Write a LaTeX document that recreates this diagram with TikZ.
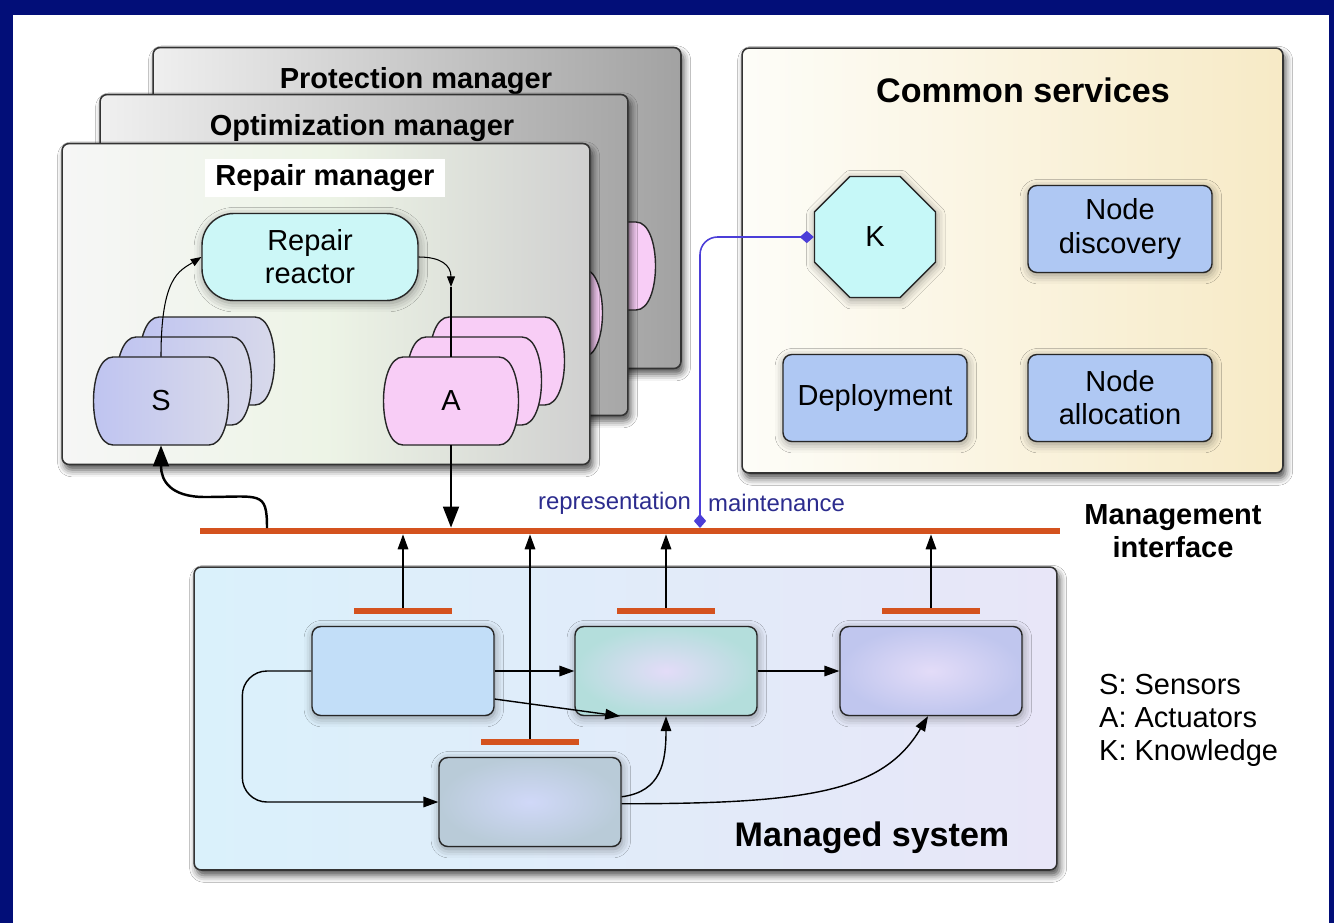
\documentclass[tikz,border=0pt]{standalone}
\usepackage{fontspec}
\setmainfont{Liberation Sans}
\usetikzlibrary{arrows.meta, positioning, calc, shapes.geometric, shadows.blur}
\definecolor{frameNavy}{HTML}{020E78}
\definecolor{busRed}{HTML}{D4521E}
\definecolor{reactorCyan}{HTML}{CCF7F7}
\definecolor{knowCyan}{HTML}{C6F8F8}
\definecolor{svcBlue}{HTML}{AFC8F3}
\definecolor{sensLeft}{HTML}{BEC3F1}
\definecolor{sensRight}{HTML}{D9DAEA}
\definecolor{actPink}{HTML}{F8CDF6}
\definecolor{kBlue}{HTML}{4B3ED8}
\definecolor{repText}{HTML}{2C2C8E}
\definecolor{protLeft}{HTML}{EFEFEF}
\definecolor{protRight}{HTML}{A2A2A2}
\definecolor{repLeft}{HTML}{F6F6F6}
\definecolor{repMid}{HTML}{EDF4E6}
\definecolor{repRight}{HTML}{D0D0D0}
\definecolor{comLeft}{HTML}{FDFDF8}
\definecolor{comRight}{HTML}{F7EAC6}
\definecolor{sysLeft}{HTML}{DAF1FB}
\definecolor{sysRight}{HTML}{E8E6F8}
\definecolor{cOneFill}{HTML}{C2DEF8}
\definecolor{compLilac}{HTML}{E3DCF8}
\definecolor{compTeal}{HTML}{B4DEDC}
\definecolor{compBlue}{HTML}{C0C6EE}
\definecolor{compMist}{HTML}{D0D8F8}
\definecolor{compSlate}{HTML}{B9CBD8}

% sensor / actuator outline: flat top and bottom, bulging sides
\tikzset{
  pics/barrel/.style={code={
    \path[pic actions] (-48,-44) -- (48,-44) .. controls (74,-44) and (74,44) .. (48,44)
      -- (-48,44) .. controls (-74,44) and (-74,-44) .. (-48,-44) -- cycle;
  }},
}

\begin{document}
\begin{tikzpicture}[x=0.02cm, y=-0.02cm,
    lbl/.style={font=\fontsize{16.5}{18.8}\selectfont, align=center},
    title/.style={font=\fontsize{16.5}{18.8}\selectfont\bfseries, align=center},
    bigtitle/.style={font=\fontsize{19.4}{22}\selectfont\bfseries},
    reptxt/.style={font=\fontsize{13.6}{16}\selectfont, text=repText, inner sep=1pt},
    hardshadow/.style={blur shadow={shadow xshift=1.5pt, shadow yshift=-3pt,
      shadow blur radius=4pt, shadow opacity=70}},
    softshadow/.style={blur shadow={shadow xshift=0.5pt, shadow yshift=-1.5pt,
      shadow blur radius=5pt, shadow opacity=40}},
    mgr/.style={draw=black!80, line width=0.9pt, rounded corners=4pt, inner sep=0pt,
      minimum width=10.56cm, minimum height=6.42cm, hardshadow},
    panel/.style={draw=black!80, line width=0.9pt, rounded corners=4pt, inner sep=0pt, hardshadow},
    stackline/.style={draw=black!85, line width=0.8pt},
    stacklbl/.style={lbl, minimum width=2.64cm, minimum height=1.76cm, inner sep=0pt},
    reactor/.style={lbl, draw=black!85, line width=0.8pt, fill=reactorCyan, rounded corners=18pt,
      minimum width=4.32cm, minimum height=1.74cm, inner sep=0pt, softshadow},
    svc/.style={lbl, draw=black!85, line width=0.8pt, fill=svcBlue, rounded corners=5pt,
      minimum width=3.68cm, minimum height=1.74cm, inner sep=0pt, softshadow},
    comp/.style={draw=black!85, line width=0.8pt, rounded corners=5pt,
      minimum width=3.64cm, minimum height=1.78cm, inner sep=0pt, softshadow},
    ifbar/.style={fill=busRed, minimum width=1.96cm, minimum height=0.12cm, inner sep=0pt},
    busbar/.style={fill=busRed, minimum width=17.2cm, minimum height=0.12cm, inner sep=0pt},
    flow/.style={line width=0.8pt, -{Triangle[length=8.5pt, width=6pt]}},
    small/.style={line width=0.6pt, -{Triangle[length=6pt, width=4.5pt]}},
    bigarrow/.style={line width=1.4pt, -{Triangle[length=12pt, width=9pt]}},
    kline/.style={draw=kBlue, line width=0.9pt,
      {Diamond[length=8pt, width=7pt]}-{Diamond[length=8pt, width=7pt]}},
  ]
  \useasboundingbox (0,0) rectangle (1334,923);
  \fill[frameNavy] (0,0) rectangle (1334,923);
  \fill[white] (13,15) rectangle (1329,923);

  % the three managers, back to front
  \node[mgr, left color=protLeft, right color=protRight] (prot) at (417,208) {};
  \node[title] (protT) at (416,81) {Protection manager};
  \pic[stackline, fill=actPink] at (588,266) {barrel};
  \node[mgr, left color=protLeft!95!white, right color=protRight!95!white] (opt) at (364,255) {};
  \node[title] (optT) at (362,128) {Optimization manager};
  \pic[stackline, fill=actPink] at (535,313) {barrel};
  \node[mgr, left color=repLeft, right color=repRight, middle color=repMid] (rep) at (326,304) {};
  \node[title, fill=white, inner xsep=6pt, inner ysep=3pt] (repT) at (325,178) {Repair manager};

  \node[reactor] (reactor) at (310,257) {Repair\\reactor};

  % sensor and actuator stacks
  \foreach \sx/\ax/\y in {207/497/361, 184/474/381, 161/451/401} {
    \pic[stackline, left color=sensLeft, right color=sensRight] at (\sx,\y) {barrel};
    \pic[stackline, fill=actPink] at (\ax,\y) {barrel};
  }
  \node[stacklbl] (sens) at (161,401) {S};
  \node[stacklbl] (act) at (451,401) {A};

  \coordinate (rtip) at (451,287);
  \draw[small] (sens.north) .. controls +(0,-80) and +(-22,14) .. (reactor.west);
  \draw[small] (reactor.east) .. controls +(22,0) and +(0,-22) .. (rtip);
  \draw[line width=0.6pt] (rtip) -- (act.north);

  % common services
  \node[panel, minimum width=10.82cm, minimum height=8.5cm,
    left color=comLeft, right color=comRight] (common) at (1012.5,260.5) {};
  \node[bigtitle] (commonT) at (1023,90) {Common services};
  \node[lbl, regular polygon, regular polygon sides=8, draw=black!85, line width=0.8pt,
    fill=knowCyan, minimum size=2.62cm, inner sep=0pt, softshadow] (know) at (875,237) {K};
  \node[svc] (disc) at (1120,229) {Node\\discovery};
  \node[svc] (depl) at (875,398) {Deployment};
  \node[svc] (alloc) at (1120,398) {Node\\allocation};

  % managed system
  \node[panel, minimum width=17.26cm, minimum height=6.06cm,
    left color=sysLeft, right color=sysRight] (sys) at (625.5,718.5) {};
  \node[bigtitle] (sysT) at (872,838) {Managed system};
  \node[comp, fill=cOneFill] (c1) at (403,671) {};
  \node[comp, inner color=compLilac, outer color=compTeal] (c2) at (666,671) {};
  \node[comp, inner color=compLilac, outer color=compBlue] (c3) at (931,671) {};
  \node[comp, inner color=compMist, outer color=compSlate] (c4) at (530,802) {};
  \foreach \c/\b in {c1/b1, c2/b2, c3/b3, c4/b4}
    \node[ifbar, above=6.5pt of \c] (\b) {};

  % management interface
  \node[busbar] (bus) at (630,531) {};
  \node[title] (mif) at (1173,531) {Management\\interface};
  \foreach \b in {b1,b2,b3,b4}
    \draw[flow] (\b.north) -- (\b.north |- bus.south);

  \draw[flow] (c1) -- (c2);
  \draw[flow] (c2) -- (c3);
  \draw[flow] (c1.-17) -- ($(c2.south west)!0.25!(c2.south east)$);
  \draw[flow, rounded corners=14pt] (c1.west) -- ++(-69,0) |- (c4.west);
  \draw[flow] ([yshift=3pt]c4.east) .. controls +(40,-5) and +(0,45) .. (c2.south);
  \draw[flow] ([yshift=-1pt]c4.east) .. controls +(190,0) and +(-45,75) .. ($(c3.south)+(-3,0)$);

  \coordinate (sbus) at (267,528);
  \draw[bigarrow] (sbus) .. controls +(0,-38) and +(55,0) .. (205,497)
    .. controls +(-35,0) and +(0,35) .. (sens.south);
  \draw[bigarrow] (act.south) -- (act.south |- bus.north);

  % knowledge link
  \coordinate (kbus) at (700,528);
  \draw[kline, rounded corners=10pt] (kbus) |- (know.west);
  \node[reptxt, anchor=east] (repL) at (693,503) {representation};
  \node[reptxt, anchor=west] (mntL) at (706,503) {maintenance};

  \node[lbl, align=left, anchor=west] (legend) at (1093,720) {S: Sensors\\A: Actuators\\K: Knowledge};
\end{tikzpicture}
\end{document}
